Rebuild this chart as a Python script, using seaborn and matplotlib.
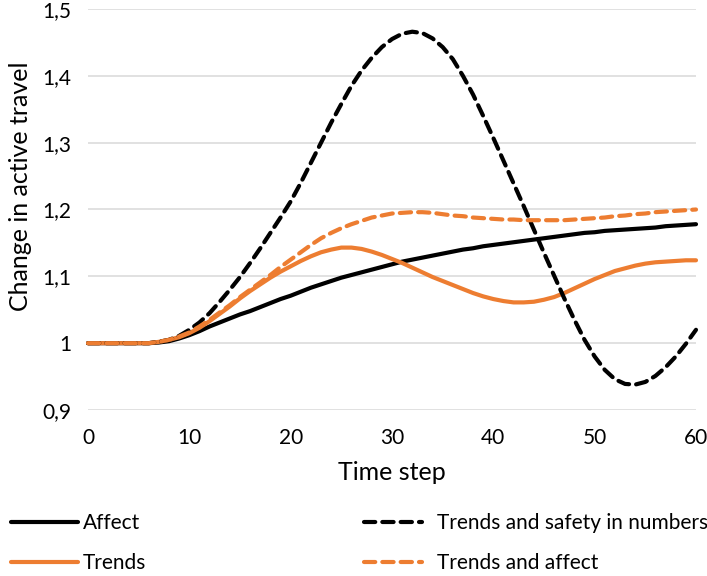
import matplotlib
matplotlib.use("Agg")
import matplotlib.pyplot as plt
from matplotlib.ticker import FuncFormatter, MultipleLocator
import seaborn as sns
import pandas as pd

steps = list(range(0, 61))

affect = [1.0, 1.0, 1.0, 1.0, 1.0, 1.0, 1.0, 1.001, 1.003, 1.007,
          1.012, 1.018, 1.025, 1.031, 1.037, 1.043, 1.048, 1.054, 1.06, 1.066,
          1.071, 1.077, 1.083, 1.088, 1.093, 1.098, 1.102, 1.106, 1.11, 1.114,
          1.118, 1.122, 1.125, 1.128, 1.131, 1.134, 1.137, 1.14, 1.142, 1.145,
          1.147, 1.149, 1.151, 1.153, 1.155, 1.157, 1.159, 1.161, 1.163, 1.165,
          1.166, 1.168, 1.169, 1.17, 1.171, 1.172, 1.173, 1.175, 1.176, 1.177,
          1.178]

trends = [1.0, 1.0, 1.0, 1.0, 1.0, 1.0, 1.0, 1.002, 1.005, 1.009,
          1.015, 1.023, 1.033, 1.044, 1.055, 1.067, 1.078, 1.088, 1.098, 1.107,
          1.115, 1.123, 1.13, 1.136, 1.14, 1.143, 1.143, 1.141, 1.137, 1.132,
          1.126, 1.12, 1.113, 1.106, 1.099, 1.093, 1.087, 1.081, 1.075, 1.07,
          1.066, 1.063, 1.061, 1.061, 1.062, 1.065, 1.069, 1.075, 1.082, 1.089,
          1.096, 1.102, 1.108, 1.112, 1.116, 1.119, 1.121, 1.122, 1.123, 1.124,
          1.124]

trends_sin = [1.0, 1.0, 1.0, 1.0, 1.0, 1.0, 1.0, 1.002, 1.005, 1.011,
              1.02, 1.031, 1.045, 1.062, 1.08, 1.099, 1.12, 1.142, 1.165, 1.188,
              1.212, 1.24, 1.27, 1.3, 1.33, 1.358, 1.385, 1.408, 1.427, 1.443,
              1.455, 1.463, 1.466, 1.464, 1.456, 1.443, 1.425, 1.4, 1.372, 1.34,
              1.307, 1.273, 1.239, 1.205, 1.17, 1.135, 1.101, 1.067, 1.035, 1.005,
              0.98, 0.96, 0.946, 0.939, 0.938, 0.942, 0.951, 0.964, 0.98, 0.999,
              1.02]

trends_affect = [1.0, 1.0, 1.0, 1.0, 1.0, 1.0, 1.0, 1.002, 1.005, 1.01,
                 1.016, 1.025, 1.035, 1.046, 1.057, 1.069, 1.08, 1.091, 1.102, 1.114,
                 1.125, 1.136, 1.147, 1.157, 1.165, 1.172, 1.178, 1.183, 1.188, 1.191,
                 1.194, 1.195, 1.196, 1.196, 1.195, 1.193, 1.191, 1.19, 1.188, 1.187,
                 1.186, 1.185, 1.185, 1.184, 1.184, 1.184, 1.184, 1.184, 1.185, 1.186,
                 1.187, 1.188, 1.19, 1.191, 1.193, 1.194, 1.196, 1.197, 1.198, 1.199,
                 1.2]

series_names = ["Affect", "Trends", "Trends and safety in numbers", "Trends and affect"]
series_values = [affect, trends, trends_sin, trends_affect]
colors = ["#000000", "#ED7D31", "#000000", "#ED7D31"]
dashed = [False, False, True, True]

sns.set_theme(style="white")
plt.rcParams["font.family"] = ["Lato", "DejaVu Sans"]

W, H = 707, 576
fig = plt.figure(figsize=(W / 100, H / 100), dpi=100)
L, R, T, B = 88, 696, 9, 410
ax = fig.add_axes([L / W, 1 - B / H, (R - L) / W, (B - T) / H])

lines = []
for name, vals, c, d in zip(series_names, series_values, colors, dashed):
    df = pd.DataFrame({"step": steps, "value": vals})
    sns.lineplot(data=df, x="step", y="value", ax=ax, color=c, linewidth=3.0,
                 label=name, legend=False, clip_on=False)
    ln = ax.get_lines()[-1]
    if d:
        ln.set_dashes((2.7, 1.7))
        ln.set_dash_capstyle("round")
    else:
        ln.set_solid_capstyle("round")
    ln.set_solid_joinstyle("round")
    ln.set_dash_joinstyle("round")
    lines.append(ln)

ax.set_xlim(0, 60)
ax.set_ylim(0.9, 1.5)
ax.xaxis.set_major_locator(MultipleLocator(10))
ax.yaxis.set_major_locator(MultipleLocator(0.1))


def fmt(v, pos):
    if abs(v - round(v)) < 1e-9:
        return str(int(round(v)))
    return f"{v:.1f}".replace(".", ",")


ax.yaxis.set_major_formatter(FuncFormatter(fmt))
ax.grid(axis="y", color="#D9D9D9", linewidth=1.1)
ax.grid(axis="x", visible=False)
for s in ax.spines.values():
    s.set_visible(False)
ax.tick_params(axis="both", length=0, labelsize=15, colors="#000000")
ax.tick_params(axis="x", pad=13)
ax.tick_params(axis="y", pad=12)

ax.set_xlabel("Time step", fontsize=18, color="#000000")
ax.set_ylabel("Change in active travel", fontsize=18, color="#000000")
ax.xaxis.set_label_coords((392 - L) / (R - L), (B - 472) / (B - T))
ax.xaxis.label.set_va("center")
ax.yaxis.set_label_coords((21 - L) / (R - L), (B - 186) / (B - T))
ax.yaxis.label.set_va("center")

leg_kw = dict(frameon=False, fontsize=15, loc="upper left", borderpad=0,
              borderaxespad=0, labelspacing=0.95, handleheight=0.7,
              labelcolor="#000000")
leg1 = fig.legend(lines[:2], series_names[:2], bbox_to_anchor=(11 / W, 1 - 513 / H),
                  handlelength=3.2, handletextpad=0.25, **leg_kw)
leg2 = fig.legend(lines[2:], series_names[2:], bbox_to_anchor=(364 / W, 1 - 513 / H),
                  handlelength=2.8, handletextpad=0.7, **leg_kw)

fig.savefig("out.png", dpi=100)
